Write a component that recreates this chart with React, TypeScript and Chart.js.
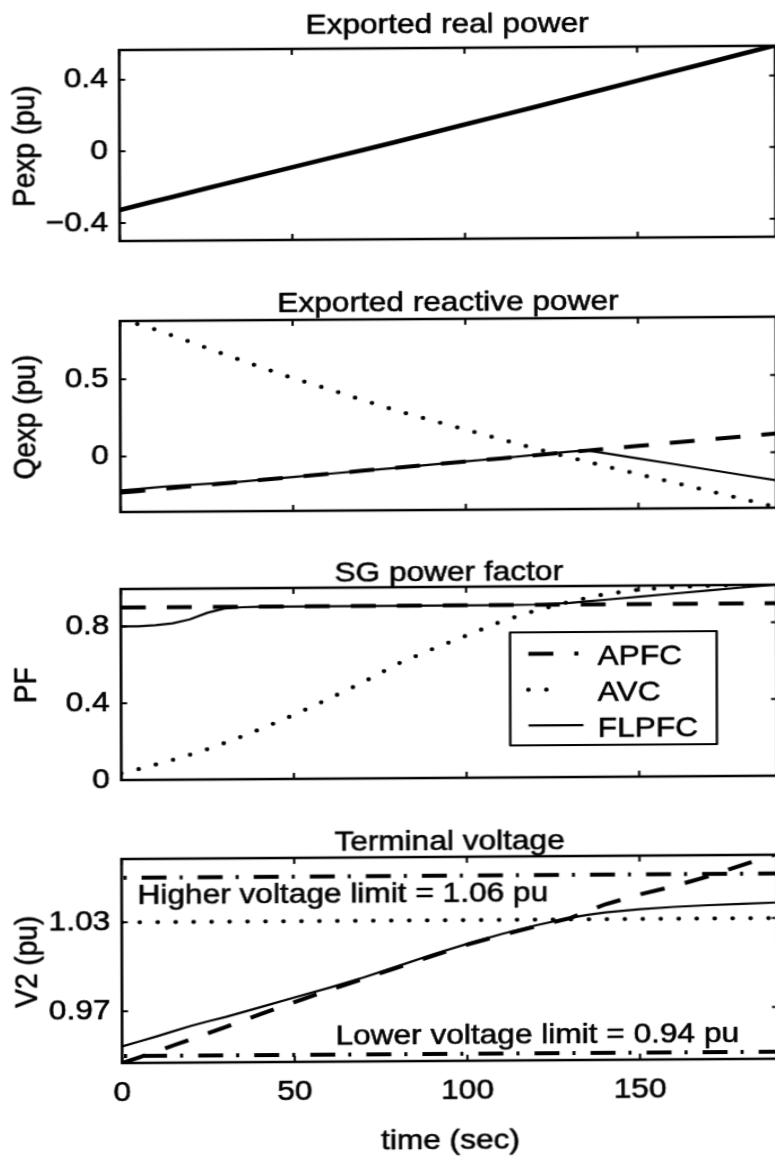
import React, { useEffect, useRef } from "react";
import { Chart, registerables } from "chart.js";

Chart.register(...registerables);

// ---------------- data ----------------
const time = [0, 5, 10, 15, 20, 25, 30, 35, 40, 50, 60, 70, 80, 90, 100, 110, 120, 130, 135, 140, 150, 160, 170, 180, 190];

const pexp = [-0.327, -0.303, -0.28, -0.257, -0.234, -0.21, -0.187, -0.164, -0.141, -0.095, -0.049, -0.003, 0.043, 0.09, 0.137, 0.184, 0.231, 0.279, 0.303, 0.327, 0.375, 0.423, 0.471, 0.519, 0.567];

const qexpApfc = [-0.233, -0.224, -0.214, -0.205, -0.196, -0.186, -0.177, -0.168, -0.158, -0.14, -0.121, -0.102, -0.084, -0.065, -0.046, -0.028, -0.009, 0.01, 0.019, 0.029, 0.047, 0.066, 0.085, 0.103, 0.122];
const qexpAvc = [0.885, 0.857, 0.822, 0.782, 0.742, 0.7, 0.658, 0.618, 0.578, 0.5, 0.43, 0.357, 0.286, 0.222, 0.16, 0.097, 0.035, -0.024, -0.052, -0.08, -0.136, -0.19, -0.245, -0.3, -0.355];
const qexpFlpfc = [-0.219, -0.21, -0.201, -0.192, -0.186, -0.18, -0.175, -0.167, -0.157, -0.139, -0.121, -0.102, -0.084, -0.065, -0.046, -0.027, -0.007, 0.012, 0.021, 0.003, -0.034, -0.071, -0.108, -0.145, -0.182];

const pfTimeApfc = [0, 190];
const pfApfc = [0.898, 0.898];
const pfAvc = [0.035, 0.056, 0.08, 0.104, 0.13, 0.158, 0.19, 0.223, 0.258, 0.333, 0.415, 0.5, 0.595, 0.67, 0.74, 0.812, 0.868, 0.913, 0.933, 0.951, 0.974, 0.985, 0.991, 0.995, 0.997];
const pfFlpfc = [0.8, 0.8, 0.806, 0.815, 0.835, 0.868, 0.89, 0.896, 0.898, 0.898, 0.898, 0.898, 0.898, 0.898, 0.898, 0.898, 0.9, 0.907, 0.915, 0.922, 0.937, 0.952, 0.967, 0.982, 0.995];

const v2TimeAvc = [0, 190];
const v2Avc = [1.03, 1.03];
const v2Apfc = [0.9352, 0.939, 0.943, 0.947, 0.951, 0.955, 0.959, 0.9633, 0.9675, 0.9755, 0.9835, 0.991, 0.9985, 1.006, 1.0135, 1.0198, 1.0255, 1.031, 1.0355, 1.04, 1.0465, 1.052, 1.0585, 1.066, 1.0735];
const v2Flpfc = [0.9464, 0.9497, 0.953, 0.9565, 0.96, 0.963, 0.9658, 0.969, 0.9722, 0.9787, 0.985, 0.9918, 0.9993, 1.007, 1.014, 1.0205, 1.0262, 1.0312, 1.033, 1.0345, 1.0365, 1.038, 1.039, 1.0398, 1.0405];

const limitTime = [0, 190];
const upperLimit = [1.06, 1.06];
const lowerLimit = [0.94, 0.94];

const xTicks = [0, 50, 100, 150];
const pexpTicks = [-0.4, 0, 0.4];
const qexpTicks = [0, 0.5];
const pfTicks = [0, 0.4, 0.8];
const v2Ticks = [0.97, 1.03];

const legendLabels = ["APFC", "AVC", "FLPFC"];

// ---------------- layout / styles ----------------
// The figure is drawn in a logical space and stretched horizontally by STRETCH.
const STRETCH = 1.13;
const W_REAL = 775;
const W_LOG = 686;
const AXIS_LEFT = 119 / STRETCH;
const RIGHT_PAD = W_LOG - W_REAL / STRETCH;
const TITLE_SPACE = 48;
const PLOT_H = 204;
const FAMILY = '"Liberation Sans", Arial, Helvetica, sans-serif';
const FONT_SIZE = 28;
const TEXT_STROKE = 0.6;

const STYLES: any = {
  PEXP: { borderDash: [], borderWidth: 4.6, borderCapStyle: "butt" },
  APFC: { borderDash: [22.1, 18.6], borderWidth: 4, borderCapStyle: "butt" },
  AVC: { borderDash: [0, 15.9], borderWidth: 4.2, borderCapStyle: "round" },
  FLPFC: { borderDash: [], borderWidth: 2.2, borderCapStyle: "butt" },
  LIMIT: { borderDash: [22.1, 11.5, 2.7, 13.3], borderWidth: 4, borderCapStyle: "butt", borderDashOffset: 31.9 },
};

const panels: any[] = [
  {
    title: "Exported real power", titleGap: 14.7, yLabel: "Pexp (pu)", yMin: -0.5, yMax: 0.5655,
    yTicks: pexpTicks, plotTop: 50, bottom: false,
    series: [{ x: time, y: pexp, style: "PEXP" }],
  },
  {
    title: "Exported reactive power", titleGap: 8.2, yLabel: "Qexp (pu)", yMin: -0.3585, yMax: 0.8767,
    yTicks: qexpTicks, plotTop: 321, bottom: false,
    series: [
      { x: time, y: qexpApfc, style: "APFC" },
      { x: time, y: qexpAvc, style: "AVC" },
      { x: time, y: qexpFlpfc, style: "FLPFC" },
    ],
  },
  {
    title: "SG power factor", titleGap: 6.2, yLabel: "PF", yMin: 0, yMax: 0.995,
    yTicks: pfTicks, plotTop: 589, bottom: false, legend: true,
    series: [
      { x: pfTimeApfc, y: pfApfc, style: "APFC" },
      { x: time, y: pfAvc, style: "AVC" },
      { x: time, y: pfFlpfc, style: "FLPFC" },
    ],
  },
  {
    title: "Terminal voltage", titleGap: 6.9, yLabel: "V2 (pu)", yMin: 0.9352, yMax: 1.0727,
    yTicks: v2Ticks, plotTop: 859, bottom: true, xLabel: "time (sec)",
    series: [
      { x: limitTime, y: upperLimit, style: "LIMIT" },
      { x: limitTime, y: lowerLimit, style: "LIMIT" },
      { x: time, y: v2Apfc, style: "APFC" },
      { x: v2TimeAvc, y: v2Avc, style: "AVC" },
      { x: time, y: v2Flpfc, style: "FLPFC" },
    ],
    notes: [
      { text: "Higher voltage limit = 1.06 pu", t: 4.58, v: 1.0426 },
      { text: "Lower voltage limit = 0.94 pu", t: 61.8, v: 0.9464 },
    ],
  },
];

const fmt = (v: number) => (v < 0 ? "\u2212" + String(Math.abs(v)) : String(v));

function heavyText(ctx: any, text: string, x: number, y: number) {
  ctx.fillText(text, x, y);
  ctx.strokeText(text, x, y);
}

function makeDecor(cfg: any) {
  return {
    id: "decor",
    afterDatasetsDraw(chart: any) {
      const { ctx, chartArea: a, scales } = chart;
      ctx.save();
      ctx.strokeStyle = "#000";
      ctx.fillStyle = "#000";
      ctx.setLineDash([]);
      // frame
      ctx.lineWidth = 2.5;
      ctx.strokeRect(a.left, a.top, a.right - a.left, a.bottom - a.top);
      // inward ticks
      ctx.lineWidth = 2;
      const tlx = 6;
      const tly = 6 / STRETCH;
      ctx.beginPath();
      for (const v of xTicks) {
        const px = scales.x.getPixelForValue(v);
        ctx.moveTo(px, a.top); ctx.lineTo(px, a.top + tlx);
        ctx.moveTo(px, a.bottom); ctx.lineTo(px, a.bottom - tlx);
      }
      for (const v of cfg.yTicks) {
        const py = scales.y.getPixelForValue(v);
        ctx.moveTo(a.left, py); ctx.lineTo(a.left + tly, py);
        ctx.moveTo(a.right, py); ctx.lineTo(a.right - tly, py);
      }
      ctx.stroke();

      ctx.font = `${FONT_SIZE}px ${FAMILY}`;
      ctx.lineWidth = TEXT_STROKE;
      ctx.lineJoin = "round";
      // title
      ctx.textAlign = "center";
      ctx.textBaseline = "alphabetic";
      heavyText(ctx, cfg.title, (a.left + a.right) / 2, a.top - cfg.titleGap);
      // y axis label (rotated)
      ctx.save();
      ctx.translate(a.left - AXIS_LEFT + FONT_SIZE * 0.6 + 5.1, (a.top + a.bottom) / 2);
      ctx.rotate(-Math.PI / 2);
      ctx.textAlign = "center";
      ctx.textBaseline = "middle";
      heavyText(ctx, cfg.yLabel, 0, 0);
      ctx.restore();
      // x axis label
      if (cfg.xLabel) {
        ctx.textAlign = "center";
        ctx.textBaseline = "middle";
        heavyText(ctx, cfg.xLabel, (a.left + a.right) / 2, chart.height - FONT_SIZE * 0.6 - 1.7);
      }
      // annotations
      if (cfg.notes) {
        ctx.textAlign = "left";
        ctx.textBaseline = "alphabetic";
        for (const n of cfg.notes) {
          heavyText(ctx, n.text, scales.x.getPixelForValue(n.t), scales.y.getPixelForValue(n.v));
        }
      }
      // legend
      if (cfg.legend) {
        const bx = a.left + 344.3, by = a.top + 46, bw = 182.9, bh = 113;
        ctx.fillStyle = "#fff";
        ctx.fillRect(bx, by, bw, bh);
        ctx.fillStyle = "#000";
        ctx.lineWidth = 2.2;
        ctx.strokeRect(bx, by, bw, bh);
        const styles = ["APFC", "AVC", "FLPFC"];
        const ends = [60.5, 46, 64.8];
        legendLabels.forEach((lab, i) => {
          const st = STYLES[styles[i]];
          const sy = by + 21.6 + i * 35.8;
          ctx.save();
          ctx.setLineDash(st.borderDash);
          ctx.lineCap = st.borderCapStyle;
          ctx.lineWidth = st.borderWidth;
          ctx.beginPath();
          ctx.moveTo(bx + 16.2, sy);
          ctx.lineTo(bx + ends[i], sy);
          ctx.stroke();
          ctx.restore();
          ctx.font = `${FONT_SIZE}px ${FAMILY}`;
          ctx.textAlign = "left";
          ctx.textBaseline = "alphabetic";
          ctx.lineWidth = TEXT_STROKE;
          heavyText(ctx, lab, bx + 77.5, by + 33.3 + i * 35.9);
        });
      }
      ctx.restore();
    },
  };
}

function Panel({ cfg }: { cfg: any }) {
  const ref = useRef<HTMLCanvasElement | null>(null);
  const bottomH = cfg.bottom ? 1162 - (cfg.plotTop + PLOT_H) : 14;
  const H = TITLE_SPACE + PLOT_H + bottomH;

  useEffect(() => {
    if (!ref.current) return;
    const font = { family: FAMILY, size: FONT_SIZE };
    const datasets = cfg.series.map((s: any) => ({
      data: s.x.map((t: number, i: number) => ({ x: t, y: s.y[i] })),
      borderColor: "#000",
      backgroundColor: "#000",
      pointRadius: 0,
      tension: 0,
      fill: false,
      ...STYLES[s.style],
    }));
    const chart = new Chart(ref.current, {
      type: "line",
      data: { datasets },
      options: {
        animation: false,
        responsive: false,
        devicePixelRatio: 1,
        events: [],
        layout: { padding: { top: TITLE_SPACE, left: 0, right: RIGHT_PAD, bottom: 0 } },
        plugins: { legend: { display: false }, title: { display: false }, tooltip: { enabled: false } },
        scales: {
          x: {
            type: "linear",
            min: 0,
            max: 190,
            afterBuildTicks: (s: any) => { s.ticks = xTicks.map((v) => ({ value: v })); },
            afterFit: (s: any) => { s.height = bottomH; },
            grid: { display: false, drawTicks: false },
            border: { display: false },
            ticks: {
              display: cfg.bottom, padding: 13.5, font, color: "#000", autoSkip: false, maxRotation: 0,
              textStrokeColor: "#000", textStrokeWidth: TEXT_STROKE,
              callback: (v: any) => fmt(Number(v)),
            },
            title: { display: false },
          },
          y: {
            type: "linear",
            min: cfg.yMin,
            max: cfg.yMax,
            afterBuildTicks: (s: any) => { s.ticks = cfg.yTicks.map((v: number) => ({ value: v })); },
            afterFit: (s: any) => { s.width = AXIS_LEFT; },
            grid: { display: false, drawTicks: false },
            border: { display: false },
            ticks: {
              padding: 10.2, font, color: "#000", autoSkip: false,
              textStrokeColor: "#000", textStrokeWidth: TEXT_STROKE,
              callback: (v: any) => fmt(Number(v)),
            },
            title: { display: false },
          },
        },
      } as any,
      plugins: [makeDecor(cfg)],
    } as any);
    return () => chart.destroy();
  }, []);

  return (
    <canvas
      ref={ref}
      width={W_LOG}
      height={H}
      style={{
        position: "absolute",
        left: 0,
        top: cfg.plotTop - TITLE_SPACE,
        width: W_LOG,
        height: H,
        display: "block",
        transform: `scaleX(${STRETCH})`,
        transformOrigin: "0px 0px",
      }}
    />
  );
}

export default function App() {
  return (
    <div style={{ position: "fixed", left: 0, top: 0, width: W_REAL, height: 1158, overflow: "hidden", background: "#fff" }}>
      <div
        style={{
          position: "absolute",
          left: 0,
          top: 0,
          width: W_REAL,
          height: 1158,
          transform: "skewX(0.17deg) skewY(-0.38deg)",
          transformOrigin: "119px 0px",
        }}
      >
        {panels.map((p, i) => (
          <Panel key={i} cfg={p} />
        ))}
      </div>
    </div>
  );
}
